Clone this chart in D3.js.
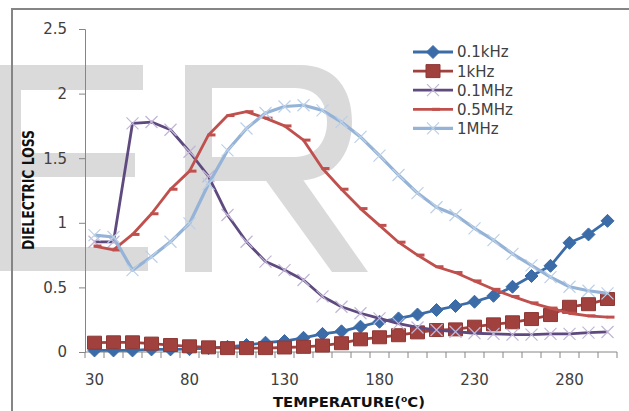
<!DOCTYPE html>
<html>
<head>
<meta charset="utf-8">
<script src="https://cdn.jsdelivr.net/npm/d3@7"></script>
<style>
  body { margin: 0; background: #fff; }
  svg { display: block; font-family: "DejaVu Sans", sans-serif; }
</style>
</head>
<body>
<div id="chart"></div>
<script>
// temperature categories (°C)
const temps = [30, 40, 50, 60, 70, 80, 90, 100, 110, 120, 130, 140, 150, 160, 170,
    180, 190, 200, 210, 220, 230, 240, 250, 260, 270, 280, 290, 300];
const xLabels = [30, 80, 130, 180, 230, 280];
const yTicks = [0, 0.5, 1, 1.5, 2, 2.5];

// dielectric loss per frequency
const loss01kHz = [0.012, 0.012, 0.012, 0.02, 0.02, 0.022, 0.03, 0.04, 0.054, 0.072, 0.085, 0.11,
    0.14, 0.16, 0.196, 0.234, 0.26, 0.29, 0.325, 0.356, 0.389, 0.435, 0.505, 0.588, 0.667, 0.845, 0.91, 1.015];
const loss1kHz = [0.072, 0.075, 0.075, 0.065, 0.054, 0.044, 0.036, 0.03, 0.03, 0.03, 0.035, 0.04,
    0.05, 0.068, 0.098, 0.114, 0.13, 0.152, 0.17, 0.175, 0.196, 0.214, 0.23, 0.255, 0.286, 0.35, 0.37, 0.41];
const loss01MHz = [0.853, 0.853, 1.77, 1.78, 1.72, 1.55, 1.36, 1.06, 0.853, 0.70, 0.634, 0.557,
    0.43, 0.35, 0.30, 0.26, 0.22, 0.19, 0.17, 0.157, 0.145, 0.14, 0.135, 0.135, 0.14, 0.14, 0.15, 0.155];
const loss05MHz = [0.82, 0.79, 0.91, 1.07, 1.26, 1.40, 1.68, 1.83, 1.86, 1.81, 1.75, 1.64,
    1.42, 1.26, 1.11, 0.98, 0.85, 0.75, 0.66, 0.615, 0.55, 0.485, 0.43, 0.38, 0.34, 0.30, 0.28, 0.27];
const loss1MHz = [0.905, 0.89, 0.634, 0.737, 0.853, 0.995, 1.30, 1.56, 1.73, 1.85, 1.90, 1.91,
    1.87, 1.78, 1.665, 1.52, 1.37, 1.23, 1.12, 1.06, 0.957, 0.866, 0.76, 0.67, 0.58, 0.505, 0.474, 0.454];

const seriesNames = ["0.1kHz", "1kHz", "0.1MHz", "0.5MHz", "1MHz"];

const series = [
    {name: seriesNames[0], values: loss01kHz, line: "#3b6ca8", width: 2.8, marker: "diamond", fill: "#3b6ca8", stroke: "#3b6ca8"},
    {name: seriesNames[1], values: loss1kHz, line: "#a0413e", width: 2.8, marker: "square", fill: "#a0413e", stroke: "#8e3936"},
    {name: seriesNames[2], values: loss01MHz, line: "#5f4a80", width: 2.8, marker: "x", fill: "none", stroke: "#c2b5d6"},
    {name: seriesNames[3], values: loss05MHz, line: "#c0504d", width: 2.8, marker: "dash", fill: "#c0504d", stroke: "none"},
    {name: seriesNames[4], values: loss1MHz, line: "#95b3d7", width: 3.2, marker: "x", fill: "none", stroke: "#bcd0e8"}
];

const width = 629, height = 411;
const margin = {top: 29, right: 12, bottom: 59, left: 85};
const plotW = width - margin.left - margin.right;
const plotH = height - margin.top - margin.bottom;

const markerPath = {
    diamond: "M0,-6.5L6.5,0L0,6.5L-6.5,0Z",
    square: "M-7,-6.5H7V6.5H-7Z",
    x: "M-6,-6L6,6M-6,6L6,-6",
    dash: "M-1,-1.5H7V1.5H-1Z"
};

const svg = d3.select("#chart")
    .append("svg")
    .attr("width", width)
    .attr("height", height);

// watermark letters behind the chart
const wm = svg.append("g").attr("fill", "#dadada");
wm.append("path")
    .attr("d", "M0,65H143V90H21V153H135V177H21V247H148V271H0Z");
wm.append("path")
    .attr("fill-rule", "evenodd")
    .attr("d", "M185,65L300,65C336,65 352,90 352,122C352,157 331,180 297,181L212,181L212,272L185,272Z" +
        "M212,88L295,88C316,88 327,102 327,122C327,143 314,157 295,157L212,157Z");
wm.append("path")
    .attr("d", "M264,178L299,174L368,272L332,272Z");

// chart frame (top and left edges visible)
svg.append("path")
    .attr("d", "M12,411V9H629")
    .attr("fill", "none")
    .attr("stroke", "#858585")
    .attr("stroke-width", 2);

const g = svg.append("g")
    .attr("transform", "translate(" + margin.left + "," + margin.top + ")");

const x = d3.scaleBand()
    .domain(temps)
    .range([0, plotW]);
const cx = d => x(d) + x.bandwidth() / 2;

const y = d3.scaleLinear()
    .domain([0, 2.5])
    .range([plotH, 0]);

// y axis
const yAxis = g.append("g")
    .call(d3.axisLeft(y).tickValues(yTicks).tickSize(6).tickPadding(12).tickFormat(d => String(d)));
yAxis.select(".domain").attr("stroke", "#868686");
yAxis.selectAll(".tick line").attr("stroke", "#868686");
yAxis.selectAll(".tick text")
    .attr("fill", "#404040")
    .style("font-size", "15px")
    .style("font-family", "DejaVu Sans, sans-serif");

// x axis: tick marks between categories, labels at category centres
const xAxis = g.append("g").attr("transform", "translate(0," + plotH + ")");
xAxis.append("line")
    .attr("x1", 0).attr("x2", plotW)
    .attr("stroke", "#868686");
xAxis.selectAll(".bt")
    .data(temps.map(t => x(t)).concat([plotW]))
    .join("line")
    .attr("class", "bt")
    .attr("x1", d => d).attr("x2", d => d)
    .attr("y1", 0).attr("y2", 6)
    .attr("stroke", "#868686");
xAxis.selectAll(".xl")
    .data(xLabels)
    .join("text")
    .attr("class", "xl")
    .attr("x", d => cx(d))
    .attr("y", 33)
    .attr("text-anchor", "middle")
    .attr("fill", "#404040")
    .style("font-size", "15px")
    .text(d => d);

// axis titles
svg.append("text")
    .attr("x", 349)
    .attr("y", 407)
    .attr("text-anchor", "middle")
    .attr("textLength", 152)
    .attr("lengthAdjust", "spacingAndGlyphs")
    .style("font-size", "14px")
    .style("font-weight", "bold")
    .attr("fill", "#111")
    .text("TEMPERATURE(⁰C)");

svg.append("text")
    .attr("transform", "translate(34,190) rotate(-90)")
    .attr("text-anchor", "middle")
    .attr("textLength", 120)
    .attr("lengthAdjust", "spacingAndGlyphs")
    .style("font-size", "15px")
    .style("font-weight", "bold")
    .attr("fill", "#111")
    .text("DIELECTRIC LOSS");

// series
const line = d3.line()
    .x((d, i) => cx(temps[i]))
    .y(d => y(d));

series.forEach(s => {
    const sg = g.append("g");
    sg.append("path")
        .datum(s.values)
        .attr("fill", "none")
        .attr("stroke", s.line)
        .attr("stroke-width", s.width)
        .attr("stroke-linejoin", "round")
        .attr("d", line);
    sg.selectAll("path.m")
        .data(s.values)
        .join("path")
        .attr("class", "m")
        .attr("transform", (d, i) => "translate(" + cx(temps[i]) + "," + y(d) + ")")
        .attr("d", markerPath[s.marker])
        .attr("fill", s.fill)
        .attr("stroke", s.stroke)
        .attr("stroke-width", s.marker === "x" ? 1.2 : 1);
});

// legend
const legend = svg.append("g").attr("transform", "translate(413,52)");
const rows = legend.selectAll("g")
    .data(series)
    .join("g")
    .attr("transform", (d, i) => "translate(0," + (i * 19.1) + ")");
rows.append("line")
    .attr("x1", 0).attr("x2", 40)
    .attr("stroke", d => d.line)
    .attr("stroke-width", d => d.width);
rows.append("path")
    .attr("transform", "translate(20,0)")
    .attr("d", d => markerPath[d.marker])
    .attr("fill", d => d.fill)
    .attr("stroke", d => d.stroke)
    .attr("stroke-width", d => d.marker === "x" ? 1.2 : 1);
rows.append("text")
    .attr("x", 44)
    .attr("dy", "0.36em")
    .attr("fill", "#404040")
    .style("font-size", "15px")
    .text(d => d.name);
</script>
</body>
</html>
